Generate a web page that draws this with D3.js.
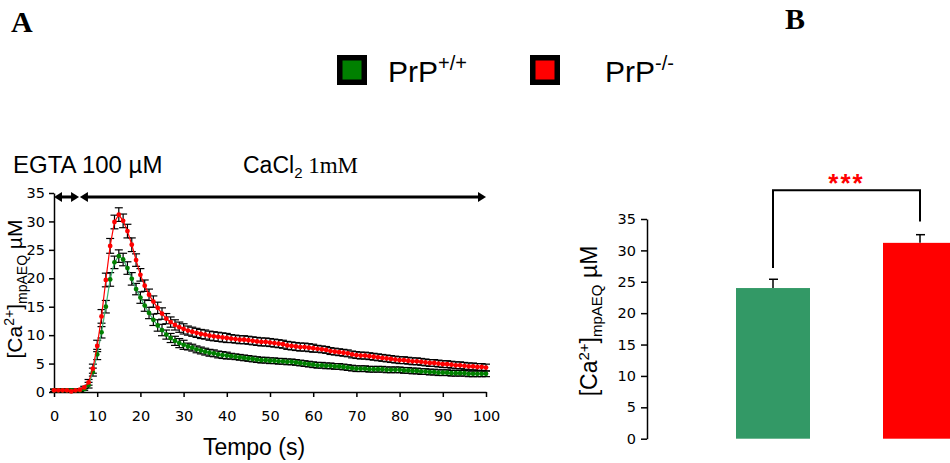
<!DOCTYPE html>
<html>
<head>
<meta charset="utf-8">
<script src="https://cdn.jsdelivr.net/npm/d3@7"></script>
<style>
  body { margin: 0; background: #fff; }
  svg { display: block; }
</style>
</head>
<body>
<svg id="chart" width="950" height="463"></svg>
<script>
// ---- data ----
// sampling times (s)
const time = d3.range(0, 101);

// PrP+/+ mean [Ca2+] (uM), one value per second
const wtMean = [
  0.3, 0.3, 0.3, 0.3, 0.3, 0.3, 0.3, 0.5, 1.2, 3.5,
  6.6, 10.5, 15.0, 19.8, 22.8, 23.9, 23.3, 21.8, 19.9, 18.1,
  16.6, 15.2, 13.9, 12.7, 11.7, 10.9, 10.1, 9.5, 9.0, 8.6,
  8.3, 8.0, 7.8, 7.5, 7.3, 7.1, 6.9, 6.8, 6.6, 6.5,
  6.4, 6.3, 6.2, 6.1, 6.0, 5.9, 5.8, 5.7, 5.6, 5.6,
  5.5, 5.5, 5.4, 5.4, 5.3, 5.3, 5.2, 5.1, 5.0, 4.9,
  4.8, 4.7, 4.7, 4.6, 4.6, 4.5, 4.5, 4.4, 4.3, 4.2,
  4.1, 4.1, 4.1, 4.0, 4.0, 4.0, 4.0, 3.9, 3.9, 3.9,
  3.9, 3.8, 3.8, 3.7, 3.7, 3.6, 3.6, 3.5, 3.5, 3.4,
  3.4, 3.4, 3.3, 3.3, 3.3, 3.3, 3.2, 3.2, 3.2, 3.2,
  3.2
];
const wtSem = [
  0.2, 0.2, 0.2, 0.2, 0.2, 0.2, 0.2, 0.2, 0.5, 0.7,
  0.9, 1.0, 1.1, 1.2, 1.1, 1.1, 1.1, 1.1, 1.1, 1.0,
  1.0, 1.0, 1.0, 1.0, 1.0, 1.0, 0.8, 0.8, 0.8, 0.8,
  0.8, 0.6, 0.6, 0.6, 0.6, 0.6, 0.6, 0.6, 0.6, 0.6,
  0.6, 0.5, 0.5, 0.5, 0.5, 0.5, 0.5, 0.5, 0.5, 0.5,
  0.5, 0.5, 0.5, 0.5, 0.5, 0.5, 0.5, 0.5, 0.5, 0.5,
  0.5, 0.5, 0.5, 0.5, 0.5, 0.5, 0.5, 0.5, 0.5, 0.5,
  0.5, 0.5, 0.5, 0.5, 0.5, 0.5, 0.5, 0.5, 0.5, 0.5,
  0.5, 0.5, 0.5, 0.5, 0.5, 0.5, 0.5, 0.5, 0.5, 0.5,
  0.5, 0.5, 0.5, 0.5, 0.5, 0.5, 0.5, 0.5, 0.5, 0.5,
  0.5
];

// PrP-/- mean [Ca2+] (uM)
const koMean = [
  0.3, 0.3, 0.3, 0.3, 0.1, 0.3, 0.4, 0.8, 1.7, 4.1,
  8.1, 13.3, 19.7, 25.7, 29.9, 31.2, 30.1, 28.3, 25.9, 23.2,
  20.6, 18.7, 17.1, 15.9, 14.8, 13.8, 12.9, 12.3, 11.8, 11.4,
  11.1, 10.8, 10.6, 10.4, 10.2, 10.1, 9.9, 9.8, 9.7, 9.6,
  9.5, 9.4, 9.3, 9.2, 9.2, 9.1, 9.0, 8.9, 8.8, 8.8,
  8.7, 8.6, 8.5, 8.4, 8.2, 8.1, 8.0, 7.9, 7.9, 7.8,
  7.7, 7.6, 7.5, 7.4, 7.2, 7.1, 7.0, 6.9, 6.8, 6.6,
  6.5, 6.4, 6.4, 6.3, 6.2, 6.1, 6.0, 5.9, 5.8, 5.7,
  5.6, 5.6, 5.5, 5.4, 5.4, 5.3, 5.2, 5.1, 5.1, 5.0,
  4.9, 4.9, 4.8, 4.7, 4.7, 4.6, 4.5, 4.5, 4.4, 4.4,
  4.3
];
const koSem = [
  0.2, 0.2, 0.2, 0.2, 0.2, 0.2, 0.2, 0.2, 0.5, 0.8,
  1.0, 1.2, 1.2, 1.3, 1.2, 1.2, 1.2, 1.2, 1.2, 1.1,
  1.1, 1.0, 1.0, 1.0, 1.0, 1.0, 0.9, 0.9, 0.9, 0.9,
  0.9, 0.8, 0.8, 0.8, 0.8, 0.8, 0.8, 0.8, 0.8, 0.8,
  0.8, 0.7, 0.7, 0.7, 0.7, 0.7, 0.7, 0.7, 0.7, 0.7,
  0.7, 0.7, 0.7, 0.7, 0.7, 0.7, 0.7, 0.7, 0.7, 0.7,
  0.7, 0.6, 0.6, 0.6, 0.6, 0.6, 0.6, 0.6, 0.6, 0.6,
  0.6, 0.6, 0.6, 0.6, 0.6, 0.6, 0.6, 0.6, 0.6, 0.6,
  0.6, 0.6, 0.6, 0.6, 0.6, 0.6, 0.6, 0.6, 0.6, 0.6,
  0.6, 0.6, 0.6, 0.6, 0.6, 0.6, 0.6, 0.6, 0.6, 0.6,
  0.6
];

// treatment periods (s) shown as arrows over panel A
const periodStart = [0, 6];
const periodEnd = [5.8, 100];
const periodLevel = 34.3;

// panel B: peak values
const groups = ['PrP+/+', 'PrP-/-'];
const peakMean = [24.0, 31.2];
const peakSem = [1.4, 1.3];
// significance bracket: left leg end, right leg end, top (uM)
const bracketLevels = [27.2, 34.6, 39.6];

const xTicksA = [0, 10, 20, 30, 40, 50, 60, 70, 80, 90, 100];
const yTicks = [0, 5, 10, 15, 20, 25, 30, 35];

// ---- chart ----
const svg = d3.select('#chart');
const sans = 'Liberation Sans, Arial, sans-serif';
const tickFont = 'DejaVu Sans, sans-serif';
const green = '#008000';
const greenLine = '#3cb371';
const red = '#ff0000';
const barGreen = '#339966';

// style helper for axes
function styleAxis(g) {
    g.select('.domain').attr('stroke', '#000').attr('stroke-width', 1.5);
    g.selectAll('.tick line').attr('stroke', '#000').attr('stroke-width', 1.5);
    g.selectAll('.tick text')
        .attr('fill', '#000')
        .attr('font-family', tickFont)
        .attr('font-size', 14.5);
}

// panel letters
svg.append('text').attr('x', 11).attr('y', 32)
    .attr('font-family', 'Liberation Serif, Times New Roman, serif')
    .attr('font-weight', 'bold').attr('font-size', 30).text('A');
svg.append('text').attr('x', 785).attr('y', 29)
    .attr('font-family', 'Liberation Serif, Times New Roman, serif')
    .attr('font-weight', 'bold').attr('font-size', 30).text('B');

// legend
const legendItems = [
    { color: green, sup: '+/+', x: 337, tx: 388 },
    { color: red, sup: '-/-', x: 530, tx: 605 }
];
const legend = svg.append('g').attr('class', 'legend');
legendItems.forEach(d => {
    legend.append('rect').attr('x', d.x).attr('y', 55)
        .attr('width', 30).attr('height', 30).attr('fill', '#000');
    legend.append('rect').attr('x', d.x + 5.5).attr('y', 60.5)
        .attr('width', 19).attr('height', 19).attr('fill', d.color);
    const t = legend.append('text').attr('x', d.tx).attr('y', 82)
        .attr('font-family', sans).attr('font-size', 30);
    t.append('tspan').text('PrP');
    t.append('tspan').attr('font-size', 20).attr('dy', -12).text(d.sup);
});

// ---- panel A ----
const xA = d3.scaleLinear().domain([0, 100]).range([54, 486]);
const yA = d3.scaleLinear().domain([0, 35]).range([392, 193]);
const gA = svg.append('g').attr('class', 'panel-a');

gA.append('g')
    .attr('transform', `translate(0,${yA(0)})`)
    .call(d3.axisBottom(xA).tickValues(xTicksA).tickSize(5).tickSizeOuter(0).tickPadding(14))
    .call(styleAxis);

gA.append('g')
    .attr('transform', `translate(${xA(0)},0)`)
    .call(d3.axisLeft(yA).tickValues(yTicks).tickSize(5).tickSizeOuter(0).tickPadding(4))
    .call(styleAxis);

// axis titles
gA.append('text')
    .attr('x', 254).attr('y', 455)
    .attr('text-anchor', 'middle')
    .attr('font-family', sans).attr('font-size', 23)
    .text('Tempo (s)');

function caLabel(sel, x, y, size) {
    const sub = Math.round(size * 0.65);
    const t = sel.append('text')
        .attr('transform', `translate(${x},${y}) rotate(-90)`)
        .attr('text-anchor', 'middle')
        .attr('font-family', sans).attr('font-size', size);
    t.append('tspan').text('[Ca');
    t.append('tspan').attr('font-size', sub).attr('dy', -8).text('2+');
    t.append('tspan').attr('dy', 8).text(']');
    t.append('tspan').attr('font-size', sub).attr('dy', 5).text('mpAEQ');
    t.append('tspan').attr('dy', -5).text(' \u00b5M');
}
caLabel(gA, 22, 289, 21);

// treatment annotations
gA.append('text').attr('x', 13).attr('y', 173)
    .attr('font-family', sans).attr('font-size', 24)
    .text('EGTA 100 \u00b5M');
const caText = gA.append('text').attr('x', 243).attr('y', 173)
    .attr('font-family', sans).attr('font-size', 23);
caText.append('tspan').text('CaCl');
caText.append('tspan').attr('font-size', 15).attr('dy', 5).text('2');
caText.append('tspan').attr('dy', -5)
    .attr('font-family', 'Liberation Serif, Times New Roman, serif')
    .text(' 1mM');

const arrowY = yA(periodLevel);
const head = 8, half = 5;
periodStart.forEach((s, i) => {
    const x1 = xA(s), x2 = xA(periodEnd[i]);
    gA.append('line')
        .attr('x1', x1 + head - 1).attr('x2', x2 - head + 1)
        .attr('y1', arrowY).attr('y2', arrowY)
        .attr('stroke', '#000').attr('stroke-width', 3);
    gA.append('path')
        .attr('d', `M${x1},${arrowY}L${x1 + head},${arrowY - half}L${x1 + head},${arrowY + half}Z`)
        .attr('fill', '#000');
    gA.append('path')
        .attr('d', `M${x2},${arrowY}L${x2 - head},${arrowY - half}L${x2 - head},${arrowY + half}Z`)
        .attr('fill', '#000');
});

// time courses
const series = [
    { mean: wtMean, sem: wtSem, line: greenLine, dot: green },
    { mean: koMean, sem: koSem, line: red, dot: red }
];

// error bars (black) first
series.forEach(s => {
    const pts = time.map((t, i) => ({ t, m: s.mean[i], e: s.sem[i] }));
    const eb = gA.append('g').attr('stroke', '#000').attr('stroke-width', 1.2);
    eb.selectAll('line.v').data(pts).join('line')
        .attr('class', 'v')
        .attr('x1', d => xA(d.t)).attr('x2', d => xA(d.t))
        .attr('y1', d => yA(d.m - d.e)).attr('y2', d => yA(d.m + d.e));
    eb.selectAll('line.top').data(pts).join('line')
        .attr('class', 'top')
        .attr('x1', d => xA(d.t) - 4).attr('x2', d => xA(d.t) + 4)
        .attr('y1', d => yA(d.m + d.e)).attr('y2', d => yA(d.m + d.e));
    eb.selectAll('line.bot').data(pts).join('line')
        .attr('class', 'bot')
        .attr('x1', d => xA(d.t) - 4).attr('x2', d => xA(d.t) + 4)
        .attr('y1', d => yA(Math.max(0, d.m - d.e))).attr('y2', d => yA(Math.max(0, d.m - d.e)));
});

const line = d3.line().x((d, i) => xA(time[i])).y(d => yA(d));
series.forEach(s => {
    gA.append('path')
        .datum(s.mean)
        .attr('d', line)
        .attr('fill', 'none')
        .attr('stroke', s.line)
        .attr('stroke-width', 1.2);
    gA.append('g').selectAll('circle').data(s.mean).join('circle')
        .attr('cx', (d, i) => xA(time[i]))
        .attr('cy', d => yA(d))
        .attr('r', 2.4)
        .attr('fill', s.dot);
});

// ---- panel B ----
const xB = d3.scalePoint().domain(groups).range([773, 920]);
const yB = d3.scaleLinear().domain([0, 35]).range([438.7, 219]);
const barW = 74;
const gB = svg.append('g').attr('class', 'panel-b');

gB.append('g')
    .attr('transform', 'translate(647,0)')
    .call(d3.axisLeft(yB).tickValues(yTicks).tickSize(6).tickSizeOuter(0).tickPadding(5))
    .call(styleAxis);

caLabel(gB, 597, 321, 23);

const barColors = [barGreen, red];
gB.selectAll('rect.bar').data(groups).join('rect')
    .attr('class', 'bar')
    .attr('x', d => xB(d) - barW / 2)
    .attr('width', barW)
    .attr('y', (d, i) => yB(peakMean[i]))
    .attr('height', (d, i) => yB(0) - yB(peakMean[i]))
    .attr('fill', (d, i) => barColors[i]);

// SEM (upper only)
gB.selectAll('line.err').data(groups).join('line')
    .attr('class', 'err')
    .attr('x1', d => xB(d)).attr('x2', d => xB(d))
    .attr('y1', (d, i) => yB(peakMean[i])).attr('y2', (d, i) => yB(peakMean[i] + peakSem[i]))
    .attr('stroke', '#000').attr('stroke-width', 1.5);
gB.selectAll('line.cap').data(groups).join('line')
    .attr('class', 'cap')
    .attr('x1', d => xB(d) - 4).attr('x2', d => xB(d) + 5)
    .attr('y1', (d, i) => yB(peakMean[i] + peakSem[i]))
    .attr('y2', (d, i) => yB(peakMean[i] + peakSem[i]))
    .attr('stroke', '#000').attr('stroke-width', 1.5);

// significance bracket
const bx1 = xB(groups[0]), bx2 = xB(groups[1]);
gB.append('path')
    .attr('d', `M${bx1},${yB(bracketLevels[0])}V${yB(bracketLevels[2])}H${bx2}V${yB(bracketLevels[1])}`)
    .attr('fill', 'none').attr('stroke', '#000').attr('stroke-width', 2);
gB.append('text')
    .attr('x', (bx1 + bx2) / 2).attr('y', 192)
    .attr('text-anchor', 'middle')
    .attr('font-family', sans).attr('font-weight', 'bold')
    .attr('font-size', 26).attr('letter-spacing', 2)
    .attr('fill', red)
    .text('***');
</script>
</body>
</html>
